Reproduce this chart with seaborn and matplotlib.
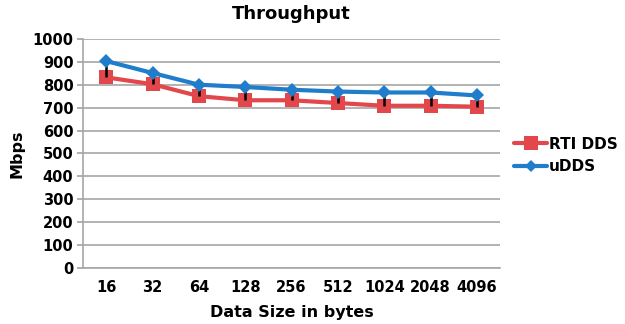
import matplotlib
matplotlib.use("Agg")
import matplotlib.pyplot as plt
import seaborn as sns
import pandas as pd
from matplotlib.lines import Line2D

sizes = ["16", "32", "64", "128", "256", "512", "1024", "2048", "4096"]
rti_dds = [832, 802, 750, 732, 732, 720, 708, 708, 704]
udds = [903, 851, 800, 790, 778, 770, 766, 766, 753]
y_ticks = [0, 100, 200, 300, 400, 500, 600, 700, 800, 900, 1000]

sns.set_theme(style="white")
plt.rcParams["font.family"] = ["DejaVu Sans"]
plt.rcParams["text.color"] = "black"
plt.rcParams["axes.labelcolor"] = "black"
plt.rcParams["xtick.color"] = "black"
plt.rcParams["ytick.color"] = "black"

red = "#E2474B"
blue = "#1F7DCB"

df = pd.DataFrame({
    "size": sizes * 2,
    "Mbps": rti_dds + udds,
    "series": ["RTI DDS"] * len(sizes) + ["uDDS"] * len(sizes),
})

fig = plt.figure(figsize=(6.25, 3.24), dpi=100)
ax = fig.add_axes([0.133, 0.173, 0.667, 0.707])

sns.lineplot(data=df, x="size", y="Mbps", hue="series", style="series",
             markers={"RTI DDS": "s", "uDDS": "D"}, dashes=False,
             palette={"RTI DDS": red, "uDDS": blue},
             markersize=8, linewidth=3, markeredgewidth=0, ax=ax,
             sort=False, legend=False)
lines = ax.get_lines()
for ln in lines:
    if ln.get_marker() == "s":
        ln.set_markersize(10)
        ln.set_zorder(3)
    elif ln.get_marker() == "D":
        ln.set_markersize(7)
        ln.set_zorder(5)

xs = list(range(len(sizes)))
ax.vlines(xs, rti_dds, [u + 8 for u in udds], colors="black", linewidth=1.8, zorder=4)

ax.set_xlim(-0.5, len(sizes) - 0.5)
ax.set_ylim(0, 1000)
ax.set_yticks(y_ticks)
ax.set_xticks(xs)
ax.set_xticklabels(sizes)
ax.yaxis.grid(True, color="#A6A6A6", linewidth=1.2)
ax.set_axisbelow(True)
for s in ["top", "right"]:
    ax.spines[s].set_visible(False)
for s in ["left", "bottom"]:
    ax.spines[s].set_color("#A6A6A6")
    ax.spines[s].set_linewidth(1.2)
ax.tick_params(axis="y", which="major", left=True, length=4, color="#A6A6A6",
               labelcolor="black", labelsize=10.5, pad=3)
ax.tick_params(axis="x", bottom=False, labelcolor="black", labelsize=10.5, pad=3)
for lab in ax.get_xticklabels() + ax.get_yticklabels():
    lab.set_fontweight("bold")

ax.set_title("Throughput", fontsize=13, fontweight="bold", pad=14, color="black")
ax.set_xlabel("Data Size in bytes", fontsize=11.5, fontweight="bold", labelpad=7)
ax.set_ylabel("Mbps", fontsize=11.5, fontweight="bold", labelpad=6)

handles = [
    Line2D([], [], color=red, marker="s", markersize=10, linewidth=3, markeredgewidth=0),
    Line2D([], [], color=blue, marker="D", markersize=6, linewidth=3, markeredgewidth=0),
]
leg = fig.legend(handles, ["RTI DDS", "uDDS"], loc="center left",
                 bbox_to_anchor=(0.8, 0.52), frameon=False,
                 prop={"weight": "bold", "size": 11}, handlelength=2.2,
                 handletextpad=0.1, labelspacing=0.5)

fig.savefig("out.png", dpi=100)
